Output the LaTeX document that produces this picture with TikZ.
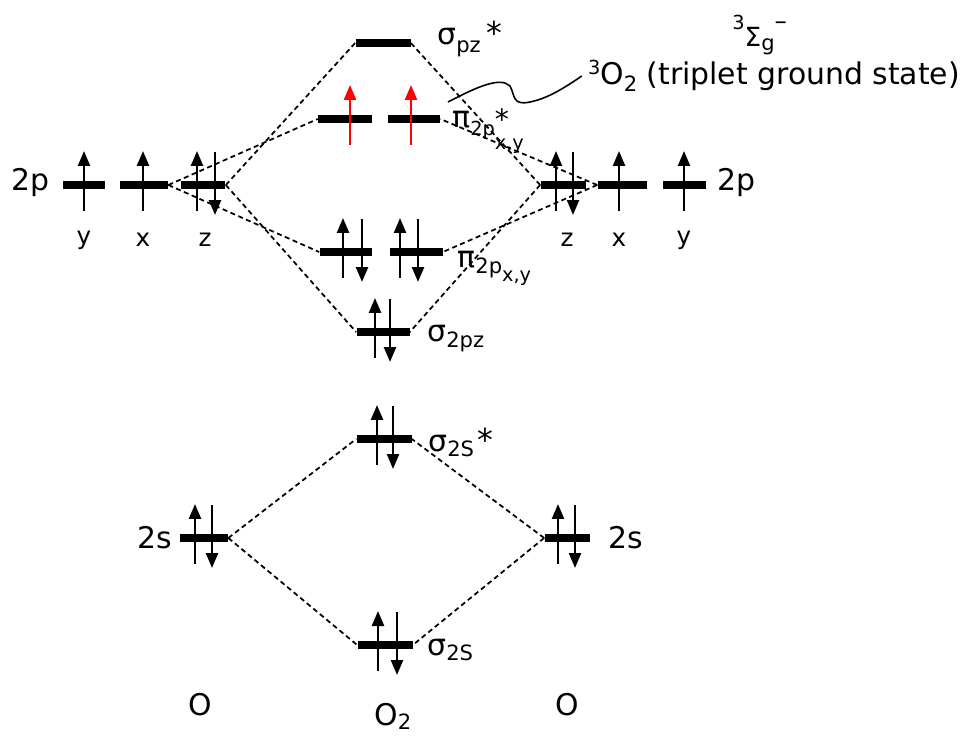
\documentclass[tikz,border=0pt]{standalone}
\usepackage{fontspec}
\setmainfont{DejaVu Sans}
\usetikzlibrary{arrows.meta, calc}

% electron arrows, given relative to a level node
\newcommand{\eup}[3][black]{\draw[spin, #1] ($(#2)+(#3,26)$) -- ++(0,-60);}
\newcommand{\edown}[2]{\draw[spin] ($(#1)+(#2,-33)$) -- ++(0,63);}
% label pieces
\newcommand{\lsub}[3][12]{\raisebox{#2}{\fontsize{#1}{#1}\selectfont #3}}
\newcommand{\lstar}[1][18]{{\fontsize{#1}{#1}\selectfont *}}

\begin{document}
\begin{tikzpicture}[
    x=0.02cm, y=-0.02cm,
    every node/.style={font=\fontsize{17}{20}\selectfont},
    orb/.style={
        rectangle,
        fill=black,
        inner sep=0pt,
        minimum height=1.5mm,
        minimum width=#1
    },
    orb/.default=10.6mm,
    spin/.style={
        -{Triangle[length=3mm, width=2.4mm]},
        line width=1.4pt
    },
    link/.style={
        dash pattern=on 1mm off 0.7mm,
        line width=1pt
    },
    axlabel/.style={font=\fontsize{14}{16}\selectfont},
    molabel/.style={anchor=base west, inner sep=0pt}
]
\useasboundingbox (0,0) rectangle (970,736);

% atomic orbitals, left O
\node (yL) [orb=8.6mm] at (84,185) {};
\node (xL) [orb=9.6mm] at (144,185) {};
\node (zL) [orb=9mm] at (203,185) {};
\node (sL) [orb=9.6mm] at (204,538) {};

% atomic orbitals, right O
\node (zR) [orb=9mm] at (563,185) {};
\node (xR) [orb=9.8mm] at (622,185) {};
\node (yR) [orb=8.6mm] at (684,185) {};
\node (sR) [orb=9mm] at (567,538) {};

% molecular orbitals
\node (spzs) [orb=11mm] at (383,43) {};
\node (pisL) [orb=10.8mm] at (345,119) {};
\node (pisR) [orb=10.4mm] at (414,119) {};
\node (piL) [orb] at (346,252) {};
\node (piR) [orb] at (416,252) {};
\node (spz) [orb] at (383,332) {};
\node (sss) [orb=11mm] at (384,439) {};
\node (ss) [orb=11mm] at (385,645) {};

% correlation lines
\draw [link] (xL.east) -- (pisL.west);
\draw [link] (xL.east) -- (piL.west);
\draw [link] (zL.east) -- (spzs.west);
\draw [link] (zL.east) -- (spz.west);
\draw [link] (xR.west) -- (pisR.east);
\draw [link] (xR.west) -- (piR.east);
\draw [link] (zR.west) -- (spzs.east);
\draw [link] (zR.west) -- (spz.east);
\draw [link] (sL.east) -- (sss.west);
\draw [link] (sL.east) -- (ss.west);
\draw [link] (sR.west) -- (sss.east);
\draw [link] (sR.west) -- (ss.east);

% electrons
\eup{yL}{0}
\eup{xL}{-1}
\eup{zL}{-6} \edown{zL}{12}
\eup{sL}{-9} \edown{sL}{8}
\eup{zR}{-7} \edown{zR}{10}
\eup{xR}{-3}
\eup{yR}{0}
\eup{sR}{-9} \edown{sR}{8}
\eup[red]{pisL}{5}
\eup[red]{pisR}{-3}
\eup{piL}{-3} \edown{piL}{16}
\eup{piR}{-16} \edown{piR}{2}
\eup{spz}{-8} \edown{spz}{7}
\eup{sss}{-7} \edown{sss}{9}
\eup{ss}{-7} \edown{ss}{12}

% atom labels
\node (tpL) at (30,183) {2p};
\node (tpR) at (736,183) {2p};
\node (tsL) at (155,538) {2s};
\node (tsR) at (626,538) {2s};
\node (yLl) [axlabel] at (84,240) {y};
\node (xLl) [axlabel] at (143,240) {x};
\node (zLl) [axlabel] at (205,240) {z};
\node (zRl) [axlabel] at (567,240) {z};
\node (xRl) [axlabel] at (619,240) {x};
\node (yRl) [axlabel] at (684,240) {y};
\node (oL) at (200,705) {O};
\node (oR) at (567,705) {O};
\node (oM) [molabel] at (374,725) {O\lsub[12]{-2.5pt}{2}};

% MO labels
\node (lspzs) [molabel] at (437,45) {σ\lsub{-4pt}{pz}\hspace{3pt}\lstar};
\node (lpis) [molabel] at (452,128) {π\lsub[11]{-4pt}{2p}\rlap{\raisebox{-1pt}{\lstar[16]}}\lsub[11]{-12pt}{x,y}};
\node (lpi) [molabel] at (457,268) {π\lsub{-3pt}{2p}\lsub[11]{-7.5pt}{x,y}};
\node (lspz) [molabel] at (427,342) {σ\lsub{-3pt}{2pz}};
\node (lsss) [molabel] at (428,451) {σ\lsub{-3pt}{2S}\hspace{2pt}\lstar};
\node (lss) [molabel] at (427,655) {σ\lsub{-3pt}{2S}};

% ground state
\node (term) [molabel] at (732,47) {\lsub[11]{10pt}{3}\lsub[15]{0pt}{Σ}\lsub[12]{-2pt}{g}\lsub[14]{10pt}{–}};
\node (tgs) at (774,76) {\lsub[11]{6pt}{3}O\lsub[12]{-4pt}{2} (triplet ground state)};
\coordinate (lead) at (448,102);
\draw [line width=0.9pt] (lead) .. controls (475,88) and (500,76) .. (510,86)
    .. controls (515,95) and (512,106) .. (530,102)
    .. controls (545,99) and (560,91) .. (tgs.west);

\end{tikzpicture}
\end{document}
